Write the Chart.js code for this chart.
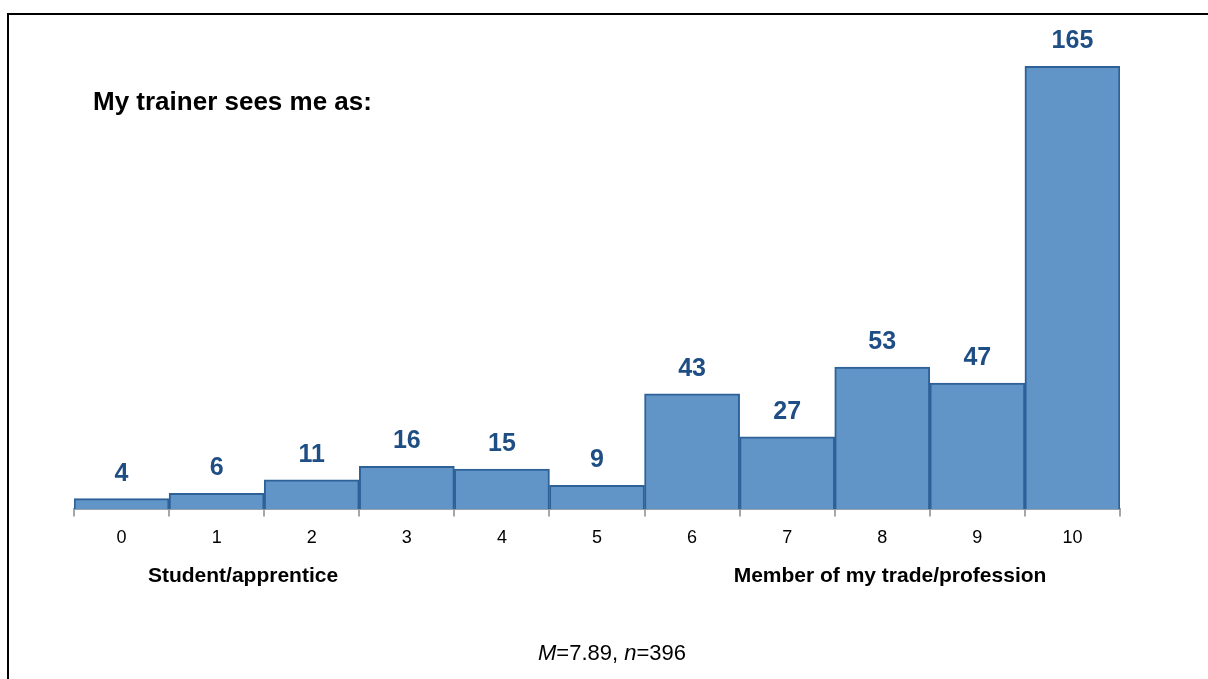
<!DOCTYPE html>
<html>
<head>
<meta charset="utf-8">
<script src="https://cdn.jsdelivr.net/npm/chart.js@4"></script>
<style>
  html, body { margin: 0; padding: 0; background: #fff; }
  body { width: 1208px; height: 679px; position: relative; overflow: hidden; font-family: "Liberation Sans", Arial, sans-serif; }
  #frame { position: absolute; left: 7px; top: 13px; width: 1300px; height: 800px; border: 2px solid #000; box-sizing: border-box; }
  #wrap { position: absolute; left: 0; top: 0; width: 1208px; height: 679px; }
  .txt { position: absolute; color: #000; white-space: nowrap; line-height: 1; }
  #title { left: 93px; top: 88px; font-size: 26px; font-weight: bold; }
  .end { top: 564px; font-size: 21px; font-weight: bold; transform: translateX(-50%); }
  #note { left: 612px; top: 642px; font-size: 22px; transform: translateX(-50%); }
</style>
</head>
<body>
<div id="frame"></div>
<div id="wrap"><canvas id="trainerChart" width="1208" height="679"></canvas></div>
<div class="txt" id="title">My trainer sees me as:</div>
<div class="txt end" style="left:243px">Student/apprentice</div>
<div class="txt end" style="left:890px">Member of my trade/profession</div>
<div class="txt" id="note"><i>M</i>=7.89, <i>n</i>=396</div>
<script>
const categories = ['0', '1', '2', '3', '4', '5', '6', '7', '8', '9', '10'];
const counts = [4, 6, 11, 16, 15, 9, 43, 27, 53, 47, 165];

// draws the count above each bar
const barLabels = {
  id: 'barLabels',
  afterDatasetsDraw(chart) {
    const ctx = chart.ctx;
    const meta = chart.getDatasetMeta(0);
    ctx.save();
    ctx.fillStyle = '#1F4E85';
    ctx.font = 'bold 25px "Liberation Sans", Arial, sans-serif';
    ctx.textAlign = 'center';
    ctx.textBaseline = 'middle';
    meta.data.forEach((bar, i) => {
      ctx.fillText(counts[i], bar.x, bar.y - 25);
    });
    ctx.restore();
  }
};

const ctx = document.getElementById('trainerChart').getContext('2d');
new Chart(ctx, {
  type: 'bar',
  data: {
    labels: categories,
    datasets: [{
      data: counts,
      backgroundColor: '#6195C8',
      borderColor: '#2E6198',
      borderWidth: 2,
      categoryPercentage: 1,
      barPercentage: 1
    }]
  },
  options: {
    responsive: false,
    animation: false,
    layout: { padding: { left: 74, right: 88, top: 26, bottom: 119 } },
    plugins: {
      legend: { display: false },
      tooltip: { enabled: false }
    },
    scales: {
      y: { display: false, min: 0, max: 180 },
      x: {
        grid: { drawOnChartArea: false, drawTicks: true, tickLength: 7, color: '#A6A6A6', lineWidth: 2 },
        border: { display: true, color: '#A6A6A6', width: 2 },
        ticks: { color: '#000', padding: 11, font: { size: 18, family: '"Liberation Sans", Arial, sans-serif' } }
      }
    }
  },
  plugins: [barLabels]
});
</script>
</body>
</html>
